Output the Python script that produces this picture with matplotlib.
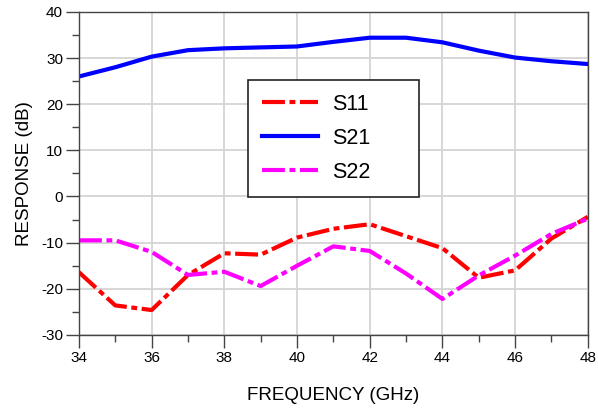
import numpy as np
import matplotlib.pyplot as plt

plt.rcParams['font.family'] = ['Liberation Sans', 'DejaVu Sans']
plt.rcParams['axes.unicode_minus'] = False

# data
freq = [34, 35, 36, 37, 38, 39, 40, 41, 42, 43, 44, 45, 46, 47, 48]
s11 = [-16.4, -23.6, -24.6, -17.0, -12.3, -12.6, -8.9, -7.0, -6.0, -8.6, -11.2, -17.6, -16.0, -9.1, -4.4]
s21 = [26.0, 28.0, 30.3, 31.7, 32.1, 32.3, 32.5, 33.5, 34.4, 34.4, 33.4, 31.6, 30.1, 29.3, 28.7]
s22 = [-9.5, -9.5, -12.0, -17.0, -16.3, -19.4, -15.0, -10.8, -11.8, -16.7, -22.2, -17.1, -12.8, -8.1, -4.8]

fig = plt.figure(figsize=(5.98, 4.09), dpi=100)
ax = fig.add_axes([0.132, 0.181, 0.851, 0.790])

dd = (5.5, 1.1, 1.4, 1.1)
ax.plot(freq, s11, color='#ff0000', lw=3, dashes=dd, label='S11')
ax.plot(freq, s21, color='#0000ff', lw=3, label='S21')
ax.plot(freq, s22, color='#ff00ff', lw=3, dashes=dd, label='S22')

ax.set_xlim(34, 48)
ax.set_ylim(-30, 40)
ax.set_xticks(np.arange(34, 49, 2))
ax.set_xticks(np.arange(35, 48, 2), minor=True)
ax.set_yticks(np.arange(-30, 41, 10))
ax.set_yticks(np.arange(-25, 40, 10), minor=True)
ax.grid(True, which='major', color='#d4d4d4', lw=1.3)
ax.set_axisbelow(True)

ax.tick_params(which='major', length=9.5, width=1, color='#444444', labelsize=11, pad=2)
ax.tick_params(which='minor', length=5, width=1, color='#444444')
for s in ax.spines.values():
    s.set_color('#444444')
    s.set_linewidth(1)

ax.set_xlabel('FREQUENCY (GHz)', fontsize=13.5, labelpad=16)
ax.set_ylabel('RESPONSE (dB)', fontsize=13.5, labelpad=6)

leg = ax.legend(loc='upper left', bbox_to_anchor=(0.333, 0.424, 0.335, 0.365),
                mode='expand', fontsize=15.5,
                frameon=True, fancybox=False, framealpha=1, edgecolor='#222222',
                handlelength=2.6, handletextpad=0.65, labelspacing=0.6,
                borderpad=0.65, borderaxespad=0)
leg.get_frame().set_linewidth(1.2)

fig.savefig('out.png', dpi=100)
